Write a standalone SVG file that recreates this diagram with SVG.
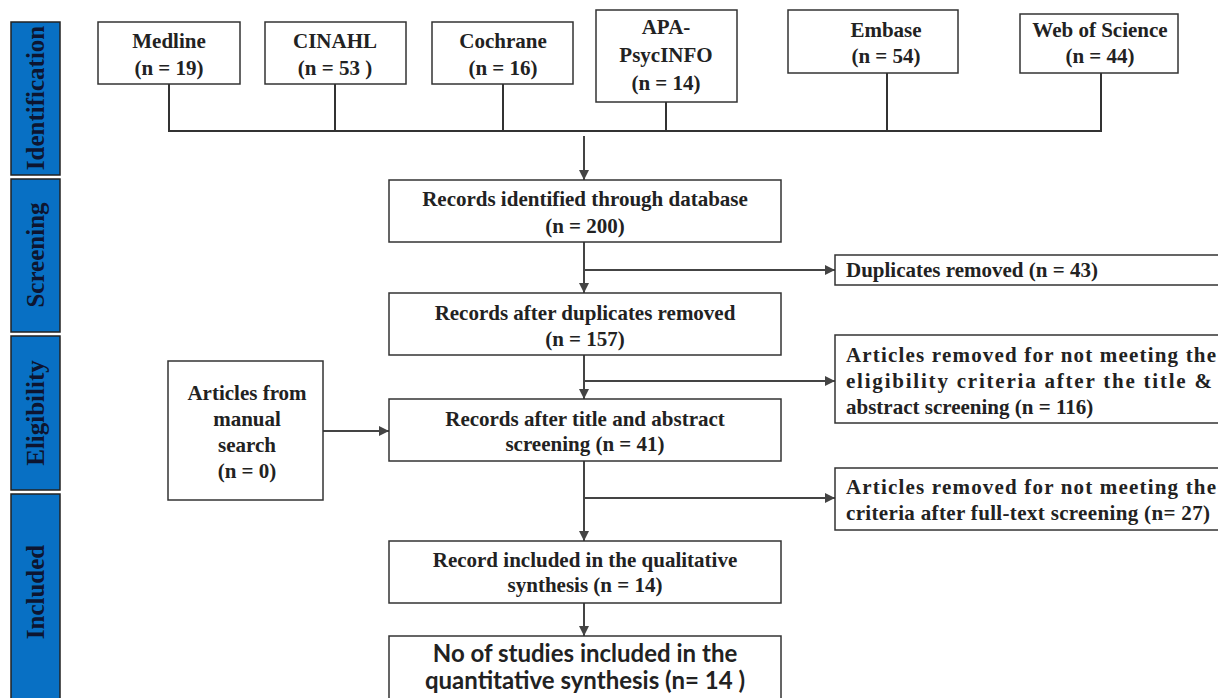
<svg xmlns="http://www.w3.org/2000/svg" width="1218" height="698" viewBox="0 0 1218 698">
<style>
.bx{fill:#fff;stroke:#333;stroke-width:1.5}
.st{fill:#0870c4;stroke:#222;stroke-width:1.5}
.tc{font-family:"Liberation Serif",serif;font-weight:bold;font-size:21px;fill:#222;text-anchor:middle}
.tl{font-family:"Liberation Serif",serif;font-weight:bold;font-size:21px;fill:#222}
.sl{font-family:"Liberation Serif",serif;font-weight:bold;font-size:25px;fill:#0d1530;text-anchor:middle}
.sans{font-family:Lato,"Liberation Sans",sans-serif;font-weight:bold;font-size:24px;fill:#222;text-anchor:middle}
.ln{fill:none;stroke:#333;stroke-width:2}
.ar{fill:none;stroke:#444;stroke-width:2;marker-end:url(#ah)}
</style>
<defs>
<marker id="ah" viewBox="0 0 10 10" refX="10" refY="5" markerWidth="5" markerHeight="5" orient="auto" markerUnits="strokeWidth">
<path d="M0,0 L10,5 L0,10 z" fill="#444"/>
</marker>
</defs>
<rect width="1218" height="698" fill="#fff"/>

<g id="stages">
<g id="stage-identification"><rect class="st" x="11" y="22" width="49" height="153"/><text class="sl" transform="translate(44,98) rotate(-90)">Identification</text></g>
<g id="stage-screening"><rect class="st" x="11" y="179" width="49" height="153"/><text class="sl" transform="translate(44,255) rotate(-90)">Screening</text></g>
<g id="stage-eligibility"><rect class="st" x="11" y="336" width="49" height="154"/><text class="sl" transform="translate(44,413) rotate(-90)">Eligibility</text></g>
<g id="stage-included"><rect class="st" x="11" y="494" width="49" height="210"/><text class="sl" transform="translate(44,592) rotate(-90)">Included</text></g>
</g>

<g id="connectors">
<path class="ln" d="M169,84 V131 M335,84 V131 M503,84 V131 M666,102 V131 M887,73 V131 M1101,73 V131 M168,131 H1102"/>
<path class="ar" d="M584,136 V180"/>
<path class="ar" d="M584,242 V293"/>
<path class="ar" d="M584,270 H835"/>
<path class="ar" d="M584,355 V399"/>
<path class="ar" d="M584,381 H835"/>
<path class="ar" d="M323,431 H389"/>
<path class="ar" d="M584,461 V541"/>
<path class="ar" d="M584,498 H835"/>
<path class="ar" d="M584,603 V636"/>
</g>

<g id="medline"><rect class="bx" x="98" y="22" width="142" height="62"/><text class="tc" x="169" y="48">Medline</text><text class="tc" x="169" y="75">(n = 19)</text></g>
<g id="cinahl"><rect class="bx" x="265" y="22" width="141" height="62"/><text class="tc" x="335" y="48">CINAHL</text><text class="tc" x="335" y="75">(n = 53 )</text></g>
<g id="cochrane"><rect class="bx" x="432" y="22" width="141" height="62"/><text class="tc" x="503" y="48">Cochrane</text><text class="tc" x="503" y="75">(n = 16)</text></g>
<g id="apa"><rect class="bx" x="596" y="10" width="141" height="92"/><text class="tc" x="666" y="34">APA-</text><text class="tc" x="666" y="62">PsycINFO</text><text class="tc" x="666" y="90">(n = 14)</text></g>
<g id="embase"><rect class="bx" x="788" y="10" width="170" height="63"/><text class="tc" x="886" y="37">Embase</text><text class="tc" x="886" y="63">(n = 54)</text></g>
<g id="wos"><rect class="bx" x="1020" y="14" width="158" height="59"/><text class="tc" x="1100" y="37">Web of Science</text><text class="tc" x="1100" y="63">(n = 44)</text></g>

<g id="identified"><rect class="bx" x="389" y="180" width="392" height="62"/><text class="tc" x="585" y="206">Records identified through database</text><text class="tc" x="585" y="233">(n = 200)</text></g>
<g id="duplicates"><rect class="bx" x="835" y="255" width="390" height="30"/><text class="tl" x="846" y="277">Duplicates removed (n = 43)</text></g>
<g id="after-dup"><rect class="bx" x="389" y="293" width="392" height="62"/><text class="tc" x="585" y="320">Records after duplicates removed</text><text class="tc" x="585" y="346">(n = 157)</text></g>
<g id="excluded-1"><rect class="bx" x="835" y="335" width="390" height="88"/><text class="tl" x="846" y="362" textLength="370" lengthAdjust="spacing">Articles removed for not meeting the</text><text class="tl" x="846" y="388" textLength="366" lengthAdjust="spacing">eligibility criteria after the title &amp;</text><text class="tl" x="846" y="414">abstract screening (n = 116)</text></g>
<g id="manual"><rect class="bx" x="168" y="361" width="155" height="139"/><text class="tc" x="247" y="400">Articles from</text><text class="tc" x="247" y="426">manual</text><text class="tc" x="247" y="452">search</text><text class="tc" x="247" y="478">(n = 0)</text></g>
<g id="after-title"><rect class="bx" x="389" y="399" width="392" height="62"/><text class="tc" x="585" y="426">Records after title and abstract</text><text class="tc" x="585" y="451">screening (n = 41)</text></g>
<g id="excluded-2"><rect class="bx" x="835" y="468" width="390" height="62"/><text class="tl" x="846" y="494" textLength="370" lengthAdjust="spacing">Articles removed for not meeting the</text><text class="tl" x="846" y="520" textLength="364" lengthAdjust="spacing">criteria after full-text screening (n= 27)</text></g>
<g id="qualitative"><rect class="bx" x="389" y="541" width="392" height="62"/><text class="tc" x="585" y="567">Record included in the qualitative</text><text class="tc" x="585" y="592">synthesis (n = 14)</text></g>
<g id="quantitative"><rect class="bx" x="389" y="636" width="392" height="70"/><text class="sans" x="585" y="662">No of studies included in the</text><text class="sans" x="585" y="689">quantitative synthesis (n= 14 )</text></g>
</svg>
